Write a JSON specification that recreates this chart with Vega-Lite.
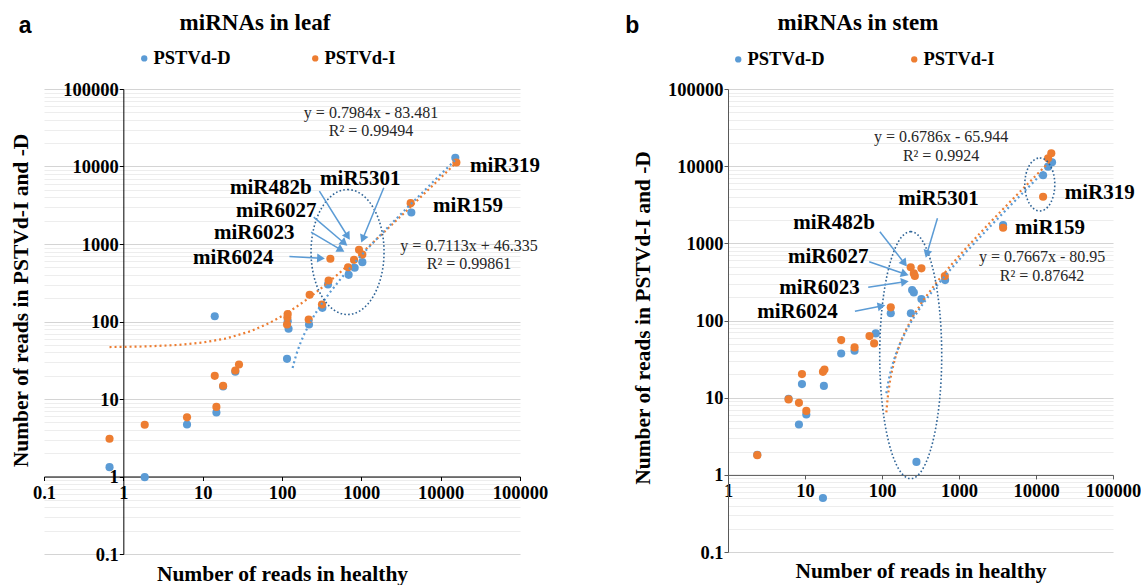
{
  "$schema": "https://vega.github.io/schema/vega-lite/v6.json",
  "background": "white",
  "padding": {"left": 10, "top": 11, "right": 0, "bottom": 0},
  "spacing": 77,
  "config": {
    "view": {"stroke": null},
    "axis": {
      "labelFont": "Liberation Serif", "labelFontWeight": "bold", "labelFontSize": 18.5, "labelColor": "#000",
      "titleFont": "Liberation Serif", "titleFontWeight": "bold", "titleFontSize": 21.5, "titleColor": "#000",
      "domainColor": "#000", "tickColor": "#000", "tickSize": 4, "labelOverlap": false, "labelFlush": false, "labelBound": false
    }
  },
  "datasets": {
    "leafPts": [
      {"s": "PSTVd-D", "x": 0.67, "y": 1.32}, {"s": "PSTVd-D", "x": 1.86, "y": 0.98}, {"s": "PSTVd-D", "x": 6.35, "y": 4.69},
      {"s": "PSTVd-D", "x": 14.9, "y": 6.7}, {"s": "PSTVd-D", "x": 14.2, "y": 117}, {"s": "PSTVd-D", "x": 18.1, "y": 14.5},
      {"s": "PSTVd-D", "x": 25.8, "y": 22.5}, {"s": "PSTVd-D", "x": 115.7, "y": 33}, {"s": "PSTVd-D", "x": 121, "y": 80.5},
      {"s": "PSTVd-D", "x": 118, "y": 101}, {"s": "PSTVd-D", "x": 219, "y": 91.5}, {"s": "PSTVd-D", "x": 323, "y": 150},
      {"s": "PSTVd-D", "x": 380, "y": 300}, {"s": "PSTVd-D", "x": 692, "y": 400}, {"s": "PSTVd-D", "x": 824, "y": 493},
      {"s": "PSTVd-D", "x": 1030, "y": 583}, {"s": "PSTVd-D", "x": 4268, "y": 2549}, {"s": "PSTVd-D", "x": 15300, "y": 12950},
      {"s": "PSTVd-I", "x": 0.67, "y": 3.07}, {"s": "PSTVd-I", "x": 1.86, "y": 4.65}, {"s": "PSTVd-I", "x": 6.35, "y": 5.8},
      {"s": "PSTVd-I", "x": 14.2, "y": 19.9}, {"s": "PSTVd-I", "x": 14.9, "y": 7.9}, {"s": "PSTVd-I", "x": 18.1, "y": 14.8},
      {"s": "PSTVd-I", "x": 25.8, "y": 23.3}, {"s": "PSTVd-I", "x": 28.7, "y": 27.9}, {"s": "PSTVd-I", "x": 115.7, "y": 91.5},
      {"s": "PSTVd-I", "x": 117, "y": 113}, {"s": "PSTVd-I", "x": 118, "y": 125}, {"s": "PSTVd-I", "x": 217, "y": 106},
      {"s": "PSTVd-I", "x": 223, "y": 221}, {"s": "PSTVd-I", "x": 319, "y": 166}, {"s": "PSTVd-I", "x": 387, "y": 338},
      {"s": "PSTVd-I", "x": 407, "y": 644}, {"s": "PSTVd-I", "x": 680, "y": 502}, {"s": "PSTVd-I", "x": 809, "y": 625},
      {"s": "PSTVd-I", "x": 935, "y": 841}, {"s": "PSTVd-I", "x": 1030, "y": 732}, {"s": "PSTVd-I", "x": 4185, "y": 3363},
      {"s": "PSTVd-I", "x": 15780, "y": 11270}
    ],
    "leafTrend": [
      {"s": "PSTVd-I", "x": 0.67, "y": 46.81}, {"s": "PSTVd-I", "x": 1, "y": 47.05}, {"s": "PSTVd-I", "x": 2, "y": 47.76},
      {"s": "PSTVd-I", "x": 5, "y": 49.89}, {"s": "PSTVd-I", "x": 10, "y": 53.45}, {"s": "PSTVd-I", "x": 20, "y": 60.56},
      {"s": "PSTVd-I", "x": 40, "y": 74.79}, {"s": "PSTVd-I", "x": 70, "y": 96.13}, {"s": "PSTVd-I", "x": 100, "y": 117.5},
      {"s": "PSTVd-I", "x": 150, "y": 153.0}, {"s": "PSTVd-I", "x": 200, "y": 188.6}, {"s": "PSTVd-I", "x": 300, "y": 259.7},
      {"s": "PSTVd-I", "x": 500, "y": 402}, {"s": "PSTVd-I", "x": 800, "y": 615}, {"s": "PSTVd-I", "x": 1200, "y": 900},
      {"s": "PSTVd-I", "x": 2000, "y": 1469}, {"s": "PSTVd-I", "x": 4000, "y": 2891}, {"s": "PSTVd-I", "x": 8000, "y": 5737},
      {"s": "PSTVd-I", "x": 15780, "y": 11270},
      {"s": "PSTVd-D", "x": 136, "y": 25.1}, {"s": "PSTVd-D", "x": 145, "y": 32.3}, {"s": "PSTVd-D", "x": 155, "y": 40.3},
      {"s": "PSTVd-D", "x": 170, "y": 52.2}, {"s": "PSTVd-D", "x": 190, "y": 68.2}, {"s": "PSTVd-D", "x": 220, "y": 92.2},
      {"s": "PSTVd-D", "x": 260, "y": 124.1}, {"s": "PSTVd-D", "x": 320, "y": 172}, {"s": "PSTVd-D", "x": 400, "y": 235.9},
      {"s": "PSTVd-D", "x": 550, "y": 355.6}, {"s": "PSTVd-D", "x": 800, "y": 555.2}, {"s": "PSTVd-D", "x": 1200, "y": 874.6},
      {"s": "PSTVd-D", "x": 2000, "y": 1513}, {"s": "PSTVd-D", "x": 4000, "y": 3110}, {"s": "PSTVd-D", "x": 8000, "y": 6304},
      {"s": "PSTVd-D", "x": 15300, "y": 12132}
    ],
    "leafLab": [
      {"t": "miR319", "x": 23450, "y": 10300}, {"t": "miR159", "x": 8020, "y": 3048}, {"t": "miR5301", "x": 302, "y": 7000},
      {"t": "miR482b", "x": 22.1, "y": 5357}, {"t": "miR6027", "x": 26.3, "y": 2705}, {"t": "miR6023", "x": 13.9, "y": 1407},
      {"t": "miR6024", "x": 7.56, "y": 650}
    ],
    "leafEq": [
      {"t": "y = 0.7984x - 83.481", "x": 1325, "y": 48300}, {"t": "R² = 0.99494", "x": 1325, "y": 28300},
      {"t": "y = 0.7113x + 46.335", "x": 22790, "y": 956}, {"t": "R² = 0.99861", "x": 22790, "y": 560}
    ],
    "leafLetter": [{"t": "a", "x": 0.0577, "y": 659000}],
    "leafArr": [
      {"x": 674, "y": 1250, "x0": 296, "y0": 4800}, {"x": 611, "y": 1024, "x0": 251, "y0": 2218},
      {"x": 555, "y": 842, "x0": 232, "y0": 1420}, {"x": 1042, "y": 1167, "x0": 1918, "y0": 5310},
      {"x": 310, "y": 656, "x0": 124, "y0": 690}
    ],
    "leafEll": [{"id": "e1", "x": 670, "y": 788}],
    "stemPts": [
      {"s": "PSTVd-D", "x": 2.4, "y": 1.82}, {"s": "PSTVd-D", "x": 6.12, "y": 9.7}, {"s": "PSTVd-D", "x": 8.34, "y": 4.49},
      {"s": "PSTVd-D", "x": 9.13, "y": 15}, {"s": "PSTVd-D", "x": 10.4, "y": 6.06}, {"s": "PSTVd-D", "x": 17.6, "y": 14.2},
      {"s": "PSTVd-D", "x": 17.1, "y": 0.5}, {"s": "PSTVd-D", "x": 29.5, "y": 37.4}, {"s": "PSTVd-D", "x": 44, "y": 40.5},
      {"s": "PSTVd-D", "x": 83, "y": 68}, {"s": "PSTVd-D", "x": 130, "y": 124}, {"s": "PSTVd-D", "x": 237, "y": 124},
      {"s": "PSTVd-D", "x": 246, "y": 248}, {"s": "PSTVd-D", "x": 259, "y": 231}, {"s": "PSTVd-D", "x": 325, "y": 190},
      {"s": "PSTVd-D", "x": 280, "y": 1.47}, {"s": "PSTVd-D", "x": 660, "y": 334}, {"s": "PSTVd-D", "x": 3740, "y": 1727},
      {"s": "PSTVd-D", "x": 12360, "y": 7620}, {"s": "PSTVd-D", "x": 14350, "y": 9860}, {"s": "PSTVd-D", "x": 16150, "y": 11230},
      {"s": "PSTVd-I", "x": 2.4, "y": 1.8}, {"s": "PSTVd-I", "x": 6.12, "y": 9.5}, {"s": "PSTVd-I", "x": 8.34, "y": 8.57},
      {"s": "PSTVd-I", "x": 9.13, "y": 20.2}, {"s": "PSTVd-I", "x": 10.4, "y": 6.74}, {"s": "PSTVd-I", "x": 17.1, "y": 21.6},
      {"s": "PSTVd-I", "x": 17.9, "y": 23.2}, {"s": "PSTVd-I", "x": 29.5, "y": 55.7}, {"s": "PSTVd-I", "x": 44, "y": 44.8},
      {"s": "PSTVd-I", "x": 68.8, "y": 62.8}, {"s": "PSTVd-I", "x": 79, "y": 50.5}, {"s": "PSTVd-I", "x": 130, "y": 148},
      {"s": "PSTVd-I", "x": 236, "y": 490}, {"s": "PSTVd-I", "x": 259, "y": 408}, {"s": "PSTVd-I", "x": 267, "y": 377},
      {"s": "PSTVd-I", "x": 325, "y": 474}, {"s": "PSTVd-I", "x": 655, "y": 377}, {"s": "PSTVd-I", "x": 3740, "y": 1593},
      {"s": "PSTVd-I", "x": 12360, "y": 4020}, {"s": "PSTVd-I", "x": 14350, "y": 12650}, {"s": "PSTVd-I", "x": 15800, "y": 14700}
    ],
    "stemTrend": [
      {"s": "PSTVd-I", "x": 114, "y": 6.45}, {"s": "PSTVd-I", "x": 116, "y": 7.99}, {"s": "PSTVd-I", "x": 120, "y": 11.05},
      {"s": "PSTVd-I", "x": 126, "y": 15.65}, {"s": "PSTVd-I", "x": 135, "y": 22.55}, {"s": "PSTVd-I", "x": 150, "y": 34.05},
      {"s": "PSTVd-I", "x": 175, "y": 53.2}, {"s": "PSTVd-I", "x": 210, "y": 80.1}, {"s": "PSTVd-I", "x": 260, "y": 118.4},
      {"s": "PSTVd-I", "x": 340, "y": 179.7}, {"s": "PSTVd-I", "x": 500, "y": 302.4}, {"s": "PSTVd-I", "x": 800, "y": 532.4},
      {"s": "PSTVd-I", "x": 1300, "y": 916}, {"s": "PSTVd-I", "x": 2500, "y": 1836}, {"s": "PSTVd-I", "x": 5000, "y": 3753},
      {"s": "PSTVd-I", "x": 10000, "y": 7586}, {"s": "PSTVd-I", "x": 15800, "y": 12033},
      {"s": "PSTVd-D", "x": 114, "y": 11.42}, {"s": "PSTVd-D", "x": 116, "y": 12.77}, {"s": "PSTVd-D", "x": 120, "y": 15.49},
      {"s": "PSTVd-D", "x": 126, "y": 19.56}, {"s": "PSTVd-D", "x": 135, "y": 25.67}, {"s": "PSTVd-D", "x": 150, "y": 35.85},
      {"s": "PSTVd-D", "x": 175, "y": 52.81}, {"s": "PSTVd-D", "x": 210, "y": 76.56}, {"s": "PSTVd-D", "x": 260, "y": 110.5},
      {"s": "PSTVd-D", "x": 340, "y": 164.8}, {"s": "PSTVd-D", "x": 500, "y": 273.4}, {"s": "PSTVd-D", "x": 800, "y": 476.9},
      {"s": "PSTVd-D", "x": 1300, "y": 816.2}, {"s": "PSTVd-D", "x": 2500, "y": 1630.6}, {"s": "PSTVd-D", "x": 5000, "y": 3327},
      {"s": "PSTVd-D", "x": 10000, "y": 6720}, {"s": "PSTVd-D", "x": 16150, "y": 10893}
    ],
    "stemLab": [
      {"t": "miR319", "x": 23600, "y": 4530}, {"t": "miR159", "x": 5350, "y": 1579}, {"t": "miR5301", "x": 162, "y": 3755},
      {"t": "miR482b", "x": 7.04, "y": 1834}, {"t": "miR6027", "x": 6.0, "y": 670}, {"t": "miR6023", "x": 4.63, "y": 265},
      {"t": "miR6024", "x": 2.4, "y": 130}
    ],
    "stemEq": [
      {"t": "y = 0.6786x - 65.944", "x": 586, "y": 24150}, {"t": "R² = 0.9924", "x": 586, "y": 13680},
      {"t": "y = 0.7667x - 80.95", "x": 11990, "y": 670}, {"t": "R² = 0.87642", "x": 11990, "y": 377}
    ],
    "stemLetter": [{"t": "b", "x": 0.0573, "y": 658000}],
    "stemArr": [
      {"x": 196, "y": 550, "x0": 93.8, "y0": 1414}, {"x": 198, "y": 400, "x0": 68.2, "y0": 577},
      {"x": 198, "y": 318, "x0": 66.2, "y0": 269}, {"x": 98.5, "y": 154, "x0": 44.5, "y0": 132},
      {"x": 382, "y": 727, "x0": 525, "y0": 2110}
    ],
    "stemEll": [{"id": "big", "x": 236, "y": 35.6}, {"id": "small", "x": 11200, "y": 5790}]
  },
  "resolve": {"scale": {"color": "independent", "stroke": "independent"}, "legend": {"color": "independent"}},
  "hconcat": [
    {
      "width": 476, "height": 465,
      "title": {"text": "miRNAs in leaf", "anchor": "middle", "dx": -27, "offset": -20, "font": "Liberation Serif", "fontSize": 23, "fontWeight": "bold", "color": "#000"},
      "encoding": {
        "x": {"field": "x", "type": "quantitative", "scale": {"type": "log", "domain": [0.1, 100000], "nice": false},
          "axis": {"orient": "bottom", "offset": -77.5, "values": [0.1, 1, 10, 100, 1000, 10000, 100000], "format": "~r", "grid": false,
            "title": "Number of reads in healthy", "titleY": 98, "titleBaseline": "middle", "labelPadding": 3}},
        "y": {"field": "y", "type": "quantitative", "scale": {"type": "log", "domain": [0.1, 100000], "nice": false},
          "axis": {"orient": "left", "offset": -79.33,
            "values": [0.1,0.2,0.3,0.4,0.5,0.6,0.7,0.8,0.9,1,2,3,4,5,6,7,8,9,10,20,30,40,50,60,70,80,90,100,200,300,400,500,600,700,800,900,1000,2000,3000,4000,5000,6000,7000,8000,9000,10000,20000,30000,40000,50000,60000,70000,80000,90000,100000],
            "format": "~r",
            "labelExpr": "abs(log(datum.value)/LN10 - round(log(datum.value)/LN10)) < 0.01 ? datum.label : ''",
            "tickOpacity": {"condition": {"test": "abs(log(datum.value)/LN10 - round(log(datum.value)/LN10)) < 0.01", "value": 1}, "value": 0},
            "grid": true,
            "gridColor": {"condition": {"test": "abs(log(datum.value)/LN10 - round(log(datum.value)/LN10)) < 0.01", "value": "#D4D4D4"}, "value": "#EDEDED"},
            "gridWidth": 1.2,
            "title": "Number of reads in PSTVd-I and -D", "titleX": -102, "titleY": 211, "titleAngle": -90, "titleBaseline": "middle", "titleAlign": "center",
            "labelPadding": 1}}
      },
      "layer": [
        {"data": {"name": "leafPts"}, "mark": {"type": "circle", "size": 66, "opacity": 1},
          "encoding": {"color": {"field": "s", "type": "nominal", "scale": {"domain": ["PSTVd-D", "PSTVd-I"], "range": ["#5B9BD5", "#ED7D31"]},
            "legend": {"orient": "none", "legendX": 91, "legendY": -40, "direction": "horizontal", "title": null, "symbolType": "circle", "symbolSize": 40,
              "symbolStrokeWidth": 0, "symbolOpacity": 1, "labelFont": "Liberation Serif", "labelFontWeight": "bold", "labelFontSize": 18.5, "labelColor": "#000",
              "columnPadding": 75, "labelOffset": 0}}}},
        {"data": {"name": "leafTrend"}, "mark": {"type": "line", "strokeDash": [2, 3], "strokeWidth": 2.2},
          "encoding": {"stroke": {"field": "s", "type": "nominal", "scale": {"domain": ["PSTVd-D", "PSTVd-I"], "range": ["#5B9BD5", "#ED7D31"]}, "legend": null}}},
        {"data": {"name": "leafEll"}, "mark": {"type": "point", "shape": "M0,-1A0.584,1,0,1,1,0,1A0.584,1,0,1,1,0,-1Z", "size": 15625, "filled": false,
          "stroke": "#2F6497", "strokeWidth": 1.6, "strokeDash": [1.6, 2.2], "opacity": 1}},
        {"data": {"name": "leafArr"}, "mark": {"type": "rule", "color": "#5B9BD5", "strokeWidth": 1.5},
          "encoding": {"x2": {"field": "x0"}, "y2": {"field": "y0"}}},
        {"data": {"name": "leafArr"}, "transform": [{"calculate": "atan2((log(datum.x) - log(datum.x0)) * 79.33, (log(datum.y) - log(datum.y0)) * 77.5) * 180 / PI", "as": "ang"}],
          "mark": {"type": "point", "shape": "triangle-up", "size": 80, "filled": true, "color": "#5B9BD5", "opacity": 1},
          "encoding": {"angle": {"field": "ang", "type": "quantitative", "scale": null}}},
        {"data": {"name": "leafLab"}, "mark": {"type": "text", "align": "left", "baseline": "middle", "font": "Liberation Serif", "fontWeight": "bold", "fontSize": 21, "color": "#000"},
          "encoding": {"text": {"field": "t"}}},
        {"data": {"name": "leafEq"}, "mark": {"type": "text", "align": "center", "baseline": "middle", "font": "Liberation Serif", "fontSize": 16, "color": "#262626"},
          "encoding": {"text": {"field": "t"}}},
        {"data": {"name": "leafLetter"}, "mark": {"type": "text", "align": "center", "baseline": "middle", "font": "Liberation Sans", "fontWeight": "bold", "fontSize": 23, "color": "#000"},
          "encoding": {"text": {"field": "t"}}}
      ]
    },
    {
      "width": 385, "height": 463,
      "title": {"text": "miRNAs in stem", "anchor": "middle", "dx": -62.5, "offset": -20, "font": "Liberation Serif", "fontSize": 23, "fontWeight": "bold", "color": "#000"},
      "encoding": {
        "x": {"field": "x", "type": "quantitative", "scale": {"type": "log", "domain": [1, 100000], "nice": false},
          "axis": {"orient": "bottom", "offset": -77.1, "values": [1, 10, 100, 1000, 10000, 100000], "format": "~r", "grid": false,
            "domainColor": "#595959", "tickColor": "#595959",
            "title": "Number of reads in healthy", "titleY": 97, "titleBaseline": "middle", "labelPadding": 3}},
        "y": {"field": "y", "type": "quantitative", "scale": {"type": "log", "domain": [0.1, 100000], "nice": false},
          "axis": {"orient": "left", "offset": 0,
            "values": [0.1,0.2,0.3,0.4,0.5,0.6,0.7,0.8,0.9,1,2,3,4,5,6,7,8,9,10,20,30,40,50,60,70,80,90,100,200,300,400,500,600,700,800,900,1000,2000,3000,4000,5000,6000,7000,8000,9000,10000,20000,30000,40000,50000,60000,70000,80000,90000,100000],
            "format": "~r",
            "labelExpr": "abs(log(datum.value)/LN10 - round(log(datum.value)/LN10)) < 0.01 ? datum.label : ''",
            "tickOpacity": {"condition": {"test": "abs(log(datum.value)/LN10 - round(log(datum.value)/LN10)) < 0.01", "value": 1}, "value": 0},
            "grid": true,
            "gridColor": {"condition": {"test": "abs(log(datum.value)/LN10 - round(log(datum.value)/LN10)) < 0.01", "value": "#D4D4D4"}, "value": "#EDEDED"},
            "gridWidth": 1.2,
            "domainColor": "#595959", "tickColor": "#595959",
            "title": "Number of reads in PSTVd-I and -D", "titleX": -84.7, "titleY": 228.5, "titleAngle": -90, "titleBaseline": "middle", "titleAlign": "center",
            "labelPadding": 1}}
      },
      "layer": [
        {"data": {"name": "stemPts"}, "mark": {"type": "circle", "size": 66, "opacity": 1},
          "encoding": {"color": {"field": "s", "type": "nominal", "scale": {"domain": ["PSTVd-D", "PSTVd-I"], "range": ["#5B9BD5", "#ED7D31"]},
            "legend": {"orient": "none", "legendX": 1, "legendY": -39, "direction": "horizontal", "title": null, "symbolType": "circle", "symbolSize": 40,
              "symbolStrokeWidth": 0, "symbolOpacity": 1, "labelFont": "Liberation Serif", "labelFontWeight": "bold", "labelFontSize": 18.5, "labelColor": "#000",
              "columnPadding": 80, "labelOffset": 0}}}},
        {"data": {"name": "stemTrend"}, "mark": {"type": "line", "strokeDash": [2, 3], "strokeWidth": 2.2},
          "encoding": {"stroke": {"field": "s", "type": "nominal", "scale": {"domain": ["PSTVd-D", "PSTVd-I"], "range": ["#5B9BD5", "#ED7D31"]}, "legend": null}}},
        {"data": {"name": "stemEll"}, "transform": [{"filter": "datum.id == 'big'"}],
          "mark": {"type": "point", "shape": "M0,-1A0.251,1,0,1,1,0,1A0.251,1,0,1,1,0,-1Z", "size": 61009, "filled": false,
          "stroke": "#2F6497", "strokeWidth": 1.6, "strokeDash": [1.6, 2.2], "opacity": 1}},
        {"data": {"name": "stemEll"}, "transform": [{"filter": "datum.id == 'small'"}],
          "mark": {"type": "point", "shape": "M0,-1A0.566,1,0,1,1,0,1A0.566,1,0,1,1,0,-1Z", "size": 2809, "filled": false,
          "stroke": "#2F6497", "strokeWidth": 1.6, "strokeDash": [1.6, 2.2], "opacity": 1}},
        {"data": {"name": "stemArr"}, "mark": {"type": "rule", "color": "#5B9BD5", "strokeWidth": 1.5},
          "encoding": {"x2": {"field": "x0"}, "y2": {"field": "y0"}}},
        {"data": {"name": "stemArr"}, "transform": [{"calculate": "atan2((log(datum.x) - log(datum.x0)) * 77.06, (log(datum.y) - log(datum.y0)) * 77.1) * 180 / PI", "as": "ang"}],
          "mark": {"type": "point", "shape": "triangle-up", "size": 80, "filled": true, "color": "#5B9BD5", "opacity": 1},
          "encoding": {"angle": {"field": "ang", "type": "quantitative", "scale": null}}},
        {"data": {"name": "stemLab"}, "mark": {"type": "text", "align": "left", "baseline": "middle", "font": "Liberation Serif", "fontWeight": "bold", "fontSize": 21, "color": "#000"},
          "encoding": {"text": {"field": "t"}}},
        {"data": {"name": "stemEq"}, "mark": {"type": "text", "align": "center", "baseline": "middle", "font": "Liberation Serif", "fontSize": 16, "color": "#262626"},
          "encoding": {"text": {"field": "t"}}},
        {"data": {"name": "stemLetter"}, "mark": {"type": "text", "align": "center", "baseline": "middle", "font": "Liberation Sans", "fontWeight": "bold", "fontSize": 23, "color": "#000"},
          "encoding": {"text": {"field": "t"}}}
      ]
    }
  ]
}
